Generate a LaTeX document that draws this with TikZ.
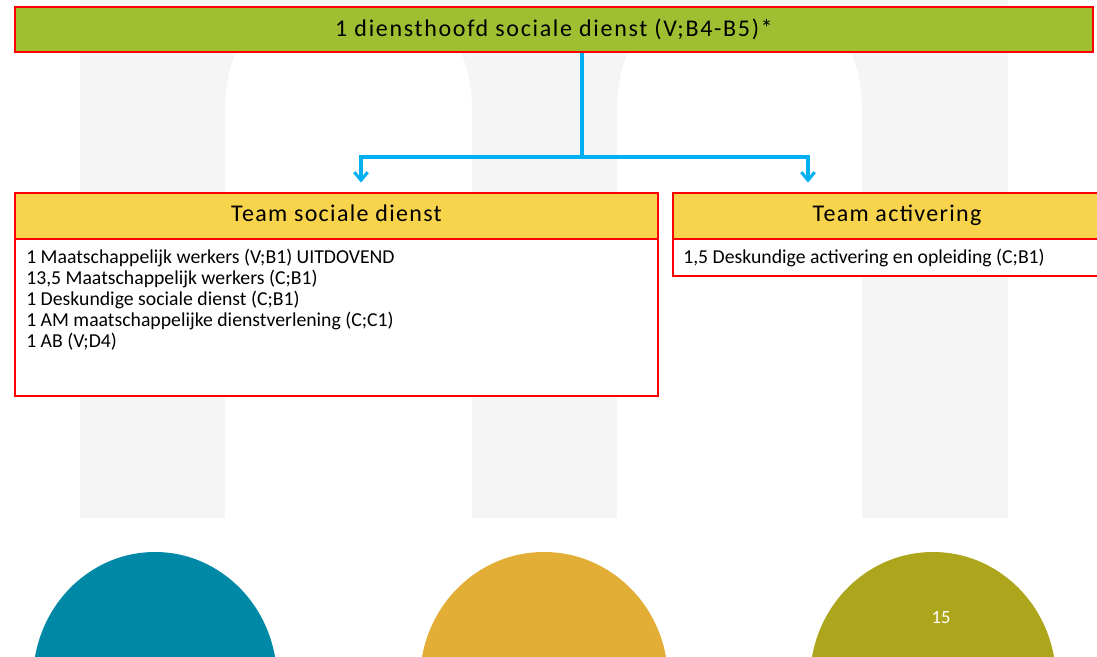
\documentclass[tikz,border=0pt]{standalone}
\usepackage{fontspec}
\setmainfont{Carlito}
\newfontfamily\topfont{Carlito}[LetterSpace=7]
\newfontfamily\headfont{Carlito}[LetterSpace=5.5]
\usetikzlibrary{arrows.meta}

\definecolor{bggrey}{RGB}{245,245,245}
\definecolor{boxred}{RGB}{255,0,0}
\definecolor{topgreen}{RGB}{160,190,50}
\definecolor{headyellow}{RGB}{248,211,76}
\definecolor{linkblue}{RGB}{0,176,240}
\definecolor{eggblue}{RGB}{0,137,166}
\definecolor{eggorange}{RGB}{227,174,53}
\definecolor{eggolive}{RGB}{173,166,29}

\tikzset{
  box/.style={draw=boxred, line width=1.6pt, inner sep=0pt},
  topbox/.style={box, fill=topgreen, minimum width=808.5pt, minimum height=33.75pt,
    font=\topfont\fontsize{18}{20}\selectfont},
  headbox/.style={box, fill=headyellow, minimum height=34.5pt, text height=12.5pt, text depth=4pt,
    font=\headfont\fontsize{18}{20}\selectfont},
  listbox/.style={box, fill=white},
  listtext/.style={inner sep=0pt, align=left, font=\fontsize{14.8}{15.75}\selectfont},
  link/.style={draw=linkblue, line width=2.3pt},
  arr/.style={link, -{Straight Barb[length=6pt,width=10pt]}, shorten >=7pt}
}

\begin{document}
\begin{tikzpicture}[x=0.75pt, y=-0.75pt]
  \clip (0,0) rectangle (1097,657);
  % background logo
  \fill[bggrey] (80,0) rectangle (1008,518);
  \fill[white] (225,518) -- (225,110) arc[start angle=180, end angle=270, x radius=60, y radius=100]
    -- (412,10) arc[start angle=270, end angle=360, x radius=60, y radius=100] -- (472,518) -- cycle;
  \fill[white] (617,518) -- (617,110) arc[start angle=180, end angle=270, x radius=60, y radius=100]
    -- (802,10) arc[start angle=270, end angle=360, x radius=60, y radius=100] -- (862,518) -- cycle;
  \fill[eggblue] (155,680) ellipse[x radius=122, y radius=128];
  \fill[eggorange] (544,680) ellipse[x radius=124, y radius=128];
  \fill[eggolive] (933,680) ellipse[x radius=123, y radius=128];
  \node[text=white, font=\fontsize{14}{16}\selectfont] (page) at (941,618) {15};

  % boxes
  \node[topbox] (top) at (554,29.5) {1 diensthoofd sociale dienst (V;B4-B5)*};
  \node[headbox, minimum width=482.25pt] (hd1) at (336.5,216) {Team sociale dienst};
  \node[listbox, minimum width=482.25pt, minimum height=117.75pt] (bd1) at (336.5,317.5) {};
  \node[headbox, minimum width=336pt] (hd2) at (897,216) {Team activering};
  \node[listbox, minimum width=336pt, minimum height=27.75pt] (bd2) at (897,257.5) {};

  \node[listtext, anchor=north west] (list1) at (26,249) {1 Maatschappelijk werkers (V;B1) UITDOVEND\\
    13,5 Maatschappelijk werkers (C;B1)\\
    1 Deskundige sociale dienst (C;B1)\\
    1 AM maatschappelijke dienstverlening (C;C1)\\
    1 AB (V;D4)};
  \node[listtext, anchor=west] (list2) at (683,258) {1,5 Deskundige activering en opleiding (C;B1)};

  % connectors
  \coordinate (split) at (582,157);
  \coordinate (a1) at (361,157);
  \coordinate (a2) at (808,157);
  \draw[link] (top.south -| split) -- (split);
  \draw[arr] (split) -| (hd1.north -| a1);
  \draw[arr] (split) -| (hd2.north -| a2);
\end{tikzpicture}
\end{document}
